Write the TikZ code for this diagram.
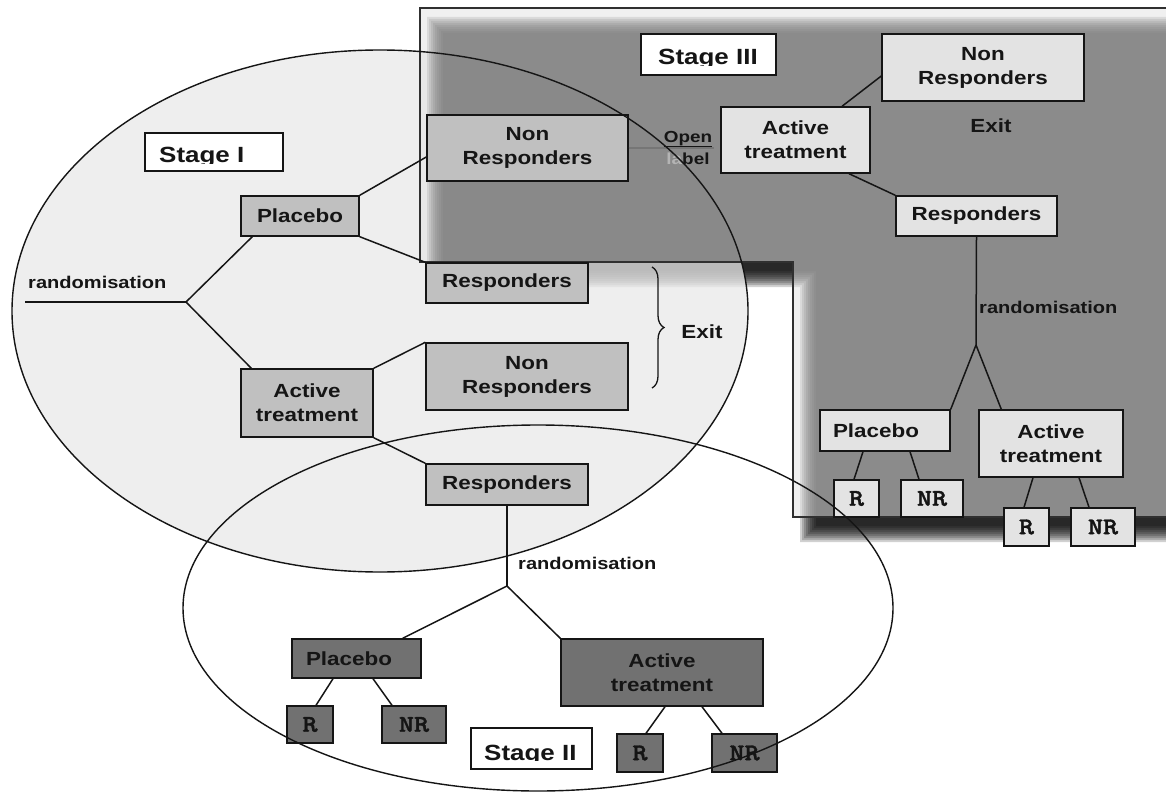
\documentclass[tikz,border=0pt]{standalone}
\usepackage{fontspec}
\usetikzlibrary{calc,decorations.pathreplacing}
\newfontfamily\bsf[FakeStretch=1.18]{Liberation Sans}
\newfontfamily\crmono[FakeStretch=1.2,FakeBold=1.5]{lmmonolt10-bold.otf}
\newcommand\bxfont{\bsf\bfseries\fontsize{19}{24}\selectfont}
\newcommand\rdfont{\bsf\bfseries\fontsize{17}{20}\selectfont}
\newcommand\stfont{\bsf\bfseries\fontsize{22}{26}\selectfont}
\newcommand\opfont{\bsf\bfseries\fontsize{16}{19}\selectfont}
\newcommand\exfont{\bsf\bfseries\fontsize{19}{22}\selectfont}
\newcommand\rnfont{\crmono\fontsize{24}{26}\selectfont}
\definecolor{ink}{HTML}{151515}
\definecolor{boxone}{HTML}{C0C0C0}
\definecolor{boxtwo}{HTML}{717171}
\definecolor{boxthree}{HTML}{E3E3E3}
\definecolor{ellfill}{HTML}{EEEEEE}
\definecolor{panelc}{gray}{0.89}
\definecolor{fadec}{HTML}{B4B4B4}
\definecolor{openline}{HTML}{767676}
\definecolor{framec}{HTML}{303030}
\begin{document}
\begin{tikzpicture}[x=1pt,y=-1pt,
  ln/.style={draw=ink,line width=1.5pt},
  bx/.style={draw=ink,line width=1.4pt,inner sep=0pt,align=center,text=ink,font=\bxfont},
  bone/.style={bx,fill=boxone},
  btwo/.style={bx,fill=boxtwo},
  bthree/.style={bx,fill=boxthree},
  rn/.style={draw=ink,line width=1.4pt,inner sep=0pt,text=ink},
  lab/.style={draw=ink,line width=1.4pt,fill=white,inner sep=0pt},
  stt/.style={font=\stfont,text=ink,inner sep=0pt},
  rdt/.style={font=\rdfont,text=ink,inner sep=0pt},
  ext/.style={font=\exfont,text=ink,inner sep=0pt},
  opt/.style={font=\opfont,text=ink,inner sep=0pt},
  ell/.style={draw=ink,line width=1.4pt}
]
\useasboundingbox (0,0) rectangle (1166,794);
\clip (0,0) rectangle (1166,794);
\fill[white] (0,0) rectangle (1166,794);

% Stage I ellipse fill
\fill[ellfill] (380,311) ellipse [x radius=368pt, y radius=261pt];

% blurred shadow of the Stage III panel
\foreach \k in {-8,-6,...,8}{
  \fill[black,opacity=0.18] ({435+\k},{25+\k}) -- (1250,{25+\k}) -- (1250,{534-\k})
     -- ({808+\k},{534-\k}) -- ({808+\k},{279-\k}) -- ({435+\k},{279-\k}) -- cycle;
}
\begin{scope}
  \clip (0,262) rectangle (793,794);
  \fill[ellfill,opacity=0.75] (380,311) ellipse [x radius=368pt, y radius=261pt];
\end{scope}

% Stage III panel
\fill[panelc,opacity=0.53] (420,8) -- (1250,8) -- (1250,517) -- (793,517) -- (793,262) -- (420,262) -- cycle;
\draw[framec,line width=1.4pt] (420,8) -- (1250,8) -- (1250,517) -- (793,517) -- (793,262) -- (420,262) -- cycle;

% ---------- Stage I ----------
\node[lab,minimum width=138pt,minimum height=38pt] (s1) at (214,152) {};
\begin{scope}
  \clip (145,133) rectangle (283,163.5);
  \node[stt,anchor=base west] (s1t) at (159,163) {Stage I};
\end{scope}

\node[bone,minimum width=118pt,minimum height=40pt] (p1) at (300,216) {Placebo};
\node[bone,minimum width=132pt,minimum height=68pt] (a1) at (307,403) {Active\\treatment};
\node[bone,minimum width=201pt,minimum height=66pt] (nr1) at (527.5,148) {Non\\Responders};
\node[bone,minimum width=162pt,minimum height=40pt] (r1) at (507,283) {Responders};
\node[bone,minimum width=202pt,minimum height=67pt] (nr1b) at (527,376.5) {Non\\Responders};
\node[bone,minimum width=162pt,minimum height=41pt] (r1b) at (507,484.5) {Responders};

\node[rdt,anchor=west] (rt1) at (28,282) {randomisation};
\coordinate (rs1) at (25,302);
\coordinate (b1) at (186,302);
\draw[ln] (rs1) -- (b1);
\draw[ln] (b1) -- ([xshift=12pt]p1.south west);
\draw[ln] (b1) -- ([xshift=11pt]a1.north west);
\draw[ln] (p1.north east) -- ([yshift=-9pt]nr1.west);
\draw[ln] (p1.south east) -- (r1.north west);
\draw[ln] (a1.north east) -- (nr1b.north west);
\draw[ln] (a1.south east) -- (r1b.north west);

\coordinate (bt) at (652,267);
\coordinate (bb) at (652,388);
\draw[ink,line width=1.3pt,decorate,decoration={brace,amplitude=12pt}] (bt) -- (bb);
\node[ext] (ex1) at (702,332) {Exit};

% ---------- Stage II ----------
\coordinate (b2) at (507,586);
\draw[ln] (r1b.south) -- (b2);
\node[rdt,anchor=west] (rt2) at (518,563) {randomisation};

\node[btwo,minimum width=129pt,minimum height=39pt] (p2) at (356.5,658.5) {Placebo\hspace*{15pt}};
\node[btwo,minimum width=202pt,minimum height=67pt] (a2) at (662,672.5) {Active\\treatment};
\draw[ln] (b2) -- ([xshift=-19pt]p2.north east);
\draw[ln] (b2) -- (a2.north west);

\node[rn,fill=boxtwo,minimum width=46pt,minimum height=37pt] (r2) at (310,724.5) {\rnfont R};
\node[rn,fill=boxtwo,minimum width=64pt,minimum height=37pt] (nr2) at (414,724.5) {\rnfont NR};
\draw[ln] ([xshift=-23.5pt]p2.south) -- ([xshift=6pt]r2.north);
\draw[ln] ([xshift=16.5pt]p2.south) -- ([xshift=-22pt]nr2.north);

\node[rn,fill=boxtwo,minimum width=46pt,minimum height=38pt] (r2b) at (640,753) {\rnfont R};
\node[rn,fill=boxtwo,minimum width=65pt,minimum height=38pt] (nr2b) at (744.5,753) {\rnfont NR};
\draw[ln] ([xshift=3pt]a2.south) -- ([xshift=6pt]r2b.north);
\draw[ln] ([xshift=40pt]a2.south) -- ([xshift=-22.5pt]nr2b.north);

\node[lab,minimum width=121pt,minimum height=41pt] (s2) at (531.5,748.5) {};
\begin{scope}
  \clip (471,728) rectangle (592,760.5);
  \node[stt,anchor=base west] (s2t) at (484,760) {Stage II};
\end{scope}

% ---------- Stage III ----------
\node[lab,minimum width=135pt,minimum height=41pt] (s3) at (708.5,54.5) {};
\begin{scope}
  \clip (641,34) rectangle (776,66);
  \node[stt,anchor=base west] (s3t) at (658,65) {Stage III};
\end{scope}

\node[bthree,minimum width=149pt,minimum height=66pt] (a3) at (795.5,140) {Active\\treatment};
\node[bthree,minimum width=202pt,minimum height=67pt] (nr3) at (983,67.5) {Non\\Responders};
\node[ext] (ex3) at (991,126) {Exit};
\node[bthree,minimum width=161pt,minimum height=40pt] (r3) at (976.5,216) {Responders};
\draw[ln] ([xshift=46.5pt]a3.north) -- ([yshift=-8.5pt]nr3.west);
\draw[ln] ([xshift=53.5pt]a3.south) -- (r3.north west);

\coordinate (b3) at (976,345);
\draw[ln] (r3.south) -- (b3);
\node[rdt,anchor=west] (rt3) at (979,307) {randomisation};

\node[bthree,minimum width=130pt,minimum height=41pt] (p3) at (885,430.5) {Placebo\hspace*{18pt}};
\node[bthree,minimum width=144pt,minimum height=67pt] (a3b) at (1051,443.5) {Active\\treatment};
\draw[ln] (b3) -- (p3.north east);
\draw[ln] (b3) -- ([xshift=23pt]a3b.north west);

\node[rn,fill=boxthree,minimum width=45pt,minimum height=37pt] (r3a) at (856.5,498.5) {\rnfont R};
\node[rn,fill=boxthree,minimum width=62pt,minimum height=37pt] (nr3a) at (932,498.5) {\rnfont NR};
\draw[ln] ([xshift=-22pt]p3.south) -- ([xshift=-2.5pt]r3a.north);
\draw[ln] ([xshift=25pt]p3.south) -- ([xshift=-13pt]nr3a.north);

\node[rn,fill=boxthree,minimum width=45pt,minimum height=38pt] (r3b) at (1026.5,527) {\rnfont R};
\node[rn,fill=boxthree,minimum width=64pt,minimum height=38pt] (nr3b) at (1103,527) {\rnfont NR};
\draw[ln] ([xshift=-18pt]a3b.south) -- ([xshift=-2.5pt]r3b.north);
\draw[ln] ([xshift=28pt]a3b.south) -- ([xshift=-14pt]nr3b.north);

% Open label connector
\draw[openline,line width=1.2pt,shorten >=6pt] (nr1.east) -- (nr1.east -| a3.west);
\node[opt,anchor=base] (op) at (688,143) {Open};
\draw[ink,line width=1.4pt] (op.south west) -- (op.south east);
\node[opt,anchor=base] (lb) at (688,165) {\textcolor{fadec}{la}bel};

% ellipse outlines on top
\draw[ell] (538,608) ellipse [x radius=355pt, y radius=183pt];
\draw[ell] (380,311) ellipse [x radius=368pt, y radius=261pt];
\end{tikzpicture}
\end{document}
